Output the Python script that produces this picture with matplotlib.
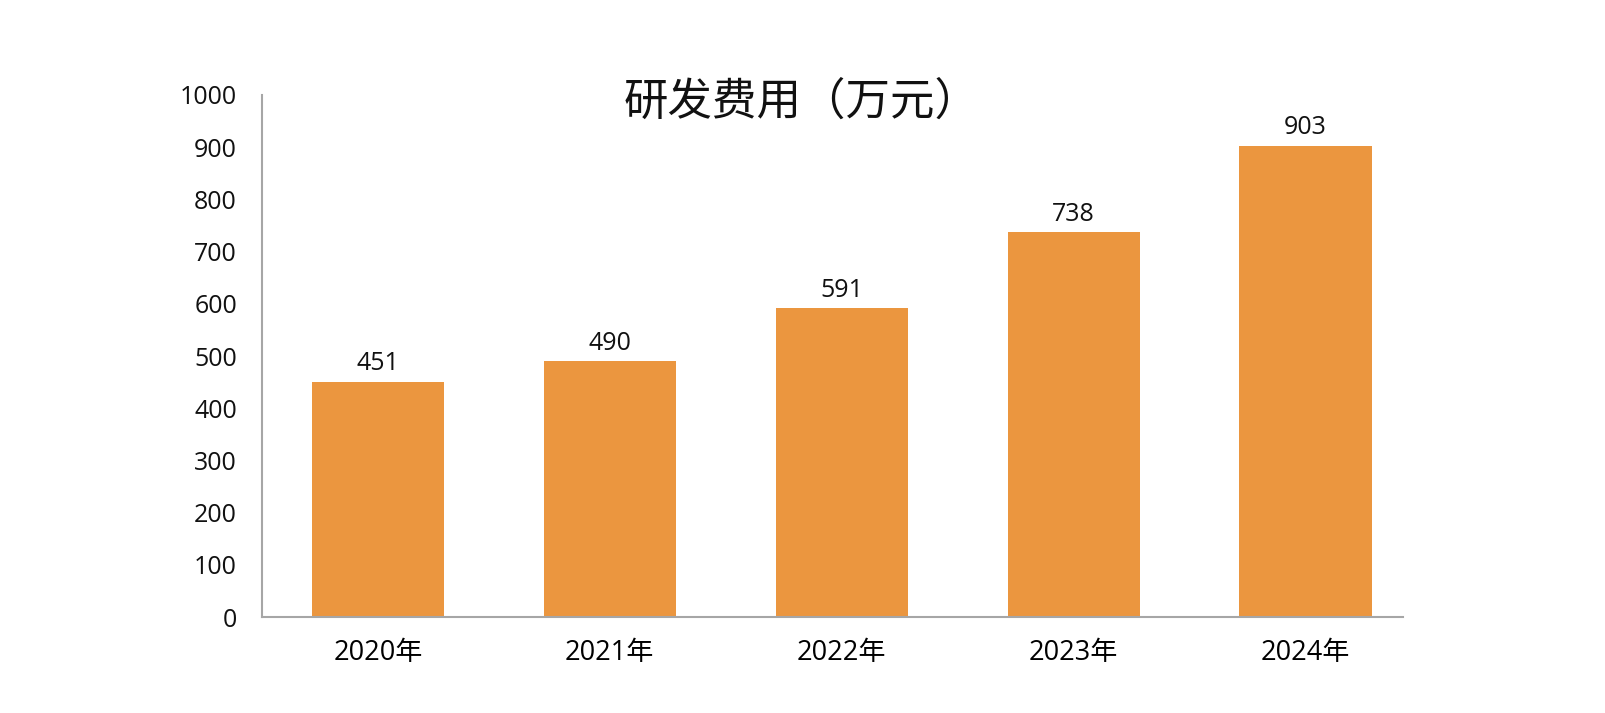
import matplotlib
matplotlib.use('Agg')
import numpy as np
from matplotlib import pyplot as plt

plt.rcParams['font.family'] = ['Open Sans', 'Noto Sans CJK SC', 'DejaVu Sans']

# data
years = ['2020年', '2021年', '2022年', '2023年', '2024年']
rd_cost = [451, 490, 591, 738, 903]
y_ticks = [0, 100, 200, 300, 400, 500, 600, 700, 800, 900, 1000]

bar_color = '#EB963F'
axis_color = '#A6A6A6'

fig = plt.figure(figsize=(16.05, 7.13), dpi=100)
ax = fig.add_axes([0.1632, 0.1346, 0.7109, 0.7322])

x = np.arange(len(years))
bars = ax.bar(x, rd_cost, width=0.57, color=bar_color)

# value labels on top of bars
for xi, v in zip(x, rd_cost):
    ax.text(xi, v + 10, str(v), ha='center', va='bottom', fontsize=18, color='#111111')

ax.set_xlim(-0.5, 4.42)
ax.set_ylim(0, 1000)
ax.set_yticks(y_ticks)
ax.set_xticks(x)
ax.set_xticklabels(years, fontsize=19.5)
ax.tick_params(axis='y', length=0, pad=18, labelsize=18, labelcolor='#111111')
ax.tick_params(axis='x', length=0, pad=16, labelcolor='#000000')

for s in ['top', 'right']:
    ax.spines[s].set_visible(False)
for s in ['left', 'bottom']:
    ax.spines[s].set_color(axis_color)
    ax.spines[s].set_linewidth(1.5)

fig.text(0.4997, 0.858, '研发费用（万元）', ha='center', va='center',
         fontsize=32, family=['Noto Sans CJK SC'], color='#111111')

fig.savefig('out.png', dpi=100)
